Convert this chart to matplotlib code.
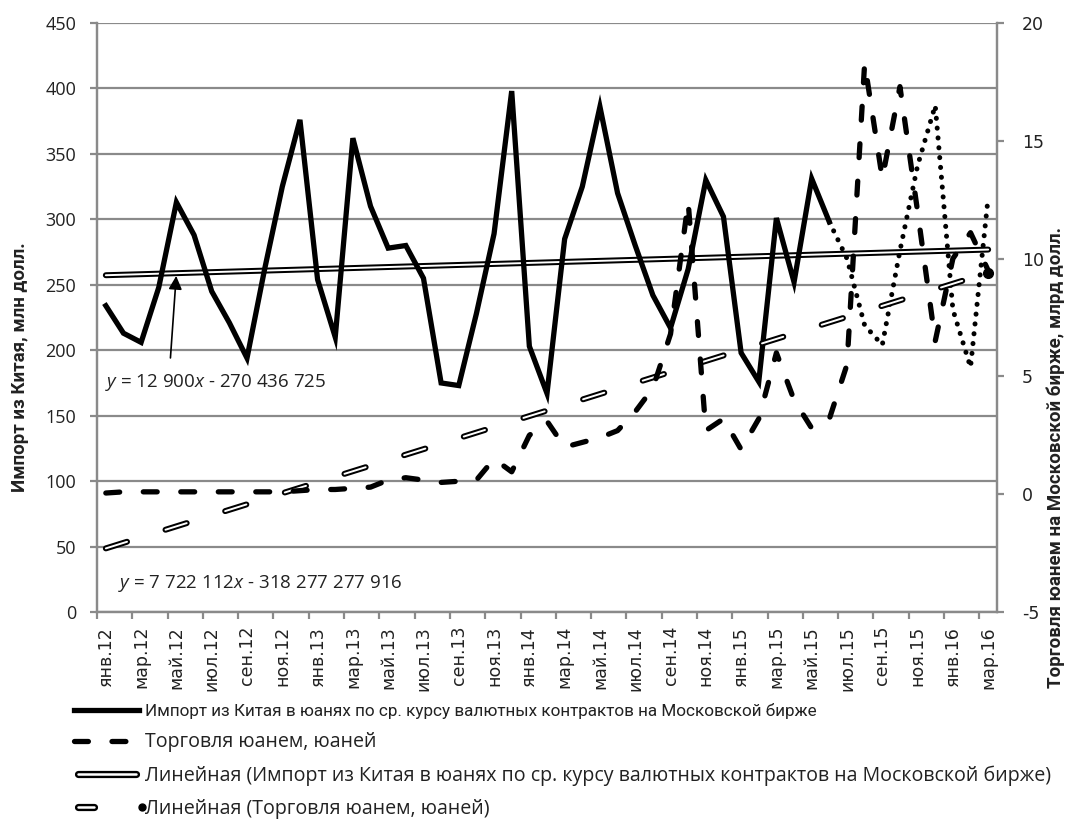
import matplotlib
matplotlib.use('Agg')
import matplotlib.pyplot as plt
from matplotlib.lines import Line2D

plt.rcParams['lines.scale_dashes'] = False
plt.rcParams['axes.unicode_minus'] = False
plt.rcParams['mathtext.fontset'] = 'custom'
plt.rcParams['mathtext.rm'] = 'Open Sans'
plt.rcParams['mathtext.it'] = 'Open Sans:italic'

# Месяцы янв.12 - мар.16 (51 точка), подписи через один месяц
tick_labels = ['янв.12', 'мар.12', 'май.12', 'июл.12', 'сен.12', 'ноя.12',
               'янв.13', 'мар.13', 'май.13', 'июл.13', 'сен.13', 'ноя.13',
               'янв.14', 'мар.14', 'май.14', 'июл.14', 'сен.14', 'ноя.14',
               'янв.15', 'мар.15', 'май.15', 'июл.15', 'сен.15', 'ноя.15',
               'янв.16', 'мар.16']

# Импорт из Китая, млн долл. (левая ось)
import_vals = [234, 213, 206, 248, 313, 288, 245, 221, 194, 262,
               325, 376, 254, 210, 362, 310, 278, 280, 255, 175,
               173, 228, 289, 398, 203, 167, 285, 325, 386, 320,
               280, 242, 217, 262, 330, 302, 198, 176, 301, 252,
               331, 298, 270, 219, 204, 276, 341, 387, 231, 187,
               317]

# Торговля юанем, млрд (правая ось)
trade_vals = [0.05, 0.1, 0.1, 0.1, 0.1, 0.1, 0.1, 0.1, 0.1, 0.1,
              0.1, 0.15, 0.2, 0.2, 0.25, 0.3, 0.6, 0.7, 0.6, 0.5,
              0.55, 0.6, 1.5, 0.95, 2.5, 3.1, 2.0, 2.2, 2.4, 2.7,
              3.5, 4.5, 6.8, 12.4, 2.7, 3.2, 1.9, 3.2, 6.0, 4.0,
              2.8, 3.2, 5.5, 18.3, 13.4, 17.3, 12.0, 6.5, 10.0, 11.1,
              9.5]

# Линейные тренды (значения в начале и в конце периода)
import_trend = [257.3, 276.9]
trade_trend = [-2.3, 9.4]

eq_import = '$y$ = 12 900$x$ - 270 436 725'
eq_trade = '$y$ = 7 722 112$x$ - 318 277 277 916'

n = len(import_vals)
x = list(range(n))
solid_end = 41  # дальше ряд импорта нарисован точками

grid_col = '#8a8a8a'
txt_col = '#222222'
trade_dash = (0, (10, 17))
trend_dash = (0, (16, 29))


class DoubleLineHandler:
    # двойная линия в легенде (чёрная толстая + белая тонкая)
    def __init__(self, dashed):
        self.dashed = dashed

    def legend_artist(self, legend, orig_handle, fontsize, handlebox):
        x0, y0 = handlebox.xdescent, handlebox.ydescent
        w, h = handlebox.width, handlebox.height
        yc = y0 + h / 2
        tr = handlebox.get_transform()
        if self.dashed:
            xs = [x0 + 3, x0 + w * 0.3]
        else:
            xs = [x0 + 3, x0 + w - 2]
        arts = [Line2D(xs, [yc, yc], color='black', lw=5.2, solid_capstyle='round', transform=tr),
                Line2D(xs, [yc, yc], color='white', lw=1.8, solid_capstyle='round', transform=tr)]
        if self.dashed:
            arts.append(Line2D([x0 + w + 2], [yc], marker='o', ms=5, color='black',
                               linestyle='none', transform=tr))
        for a in arts:
            handlebox.add_artist(a)
        return arts[0]


fig = plt.figure(figsize=(10.68, 8.24), dpi=100)
ax = fig.add_axes([97/1068, 1-612/824, 900/1068, 589/824])
ax2 = ax.twinx()

ax.set_xlim(-0.5, n - 0.5)
ax.set_ylim(0, 450)
ax.set_yticks(range(0, 451, 50))
ax.grid(axis='y', color=grid_col, linewidth=1.6)
ax.set_axisbelow(True)
ax2.set_ylim(-5, 20)
ax2.set_yticks(range(-5, 21, 5))

for a in (ax, ax2):
    for s in a.spines.values():
        s.set_color(grid_col)
        s.set_linewidth(1.6)
    a.spines['top'].set_visible(False)

ax.set_xticks([i - 0.5 for i in range(0, n, 2)])
ax.set_xticklabels([])
ax.set_xticks(range(0, n, 2), minor=True)
ax.set_xticklabels(tick_labels, minor=True, rotation=90, fontsize=12.5,
                   family='DejaVu Sans', color=txt_col)
ax.tick_params(axis='x', which='major', length=5, width=1.6, color=grid_col)
ax.tick_params(axis='x', which='minor', length=0, pad=10)
ax.tick_params(axis='y', length=5, width=1.6, color=grid_col, pad=10, labelsize=13)
for t in ax.get_yticklabels():
    t.set_family('Open Sans')
    t.set_color(txt_col)
ax2.tick_params(axis='y', length=5, width=1.6, color=grid_col, pad=13, labelsize=12.5)
for t in ax2.get_yticklabels():
    t.set_family('DejaVu Sans')
    t.set_color(txt_col)

# тренд импорта (двойная линия)
ax.plot([x[0], x[-1]], import_trend, color='black', lw=4.3, solid_capstyle='round', zorder=3)
ax.plot([x[0], x[-1]], import_trend, color='white', lw=1.4, solid_capstyle='round', zorder=3)

# импорт
ax.plot(x[:solid_end + 1], import_vals[:solid_end + 1], color='black', lw=3.8,
        solid_joinstyle='miter', zorder=4)
ax.plot(x[solid_end:], import_vals[solid_end:], color='black', lw=3.6,
        linestyle=(0, (0.1, 7)), dash_capstyle='round', zorder=4)

# тренд торговли (двойной пунктир)
ax2.plot([x[0], x[-1]], trade_trend, color='black', lw=4.3,
         linestyle=trend_dash, dash_capstyle='round')
ax2.plot([x[0], x[-1]], trade_trend, color='white', lw=1.4,
         linestyle=trend_dash, dash_capstyle='round')
ax2.plot([x[-1]], [trade_trend[-1]], 'o', color='black', ms=7)

# торговля юанем
ax2.plot(x, trade_vals, color='black', lw=3.8, linestyle=trade_dash,
         dash_capstyle='round')

# уравнения трендов
ax.annotate('', xy=(4, import_trend[0] + (import_trend[1] - import_trend[0]) * 4 / (n - 1)),
            xytext=(3.65, 192),
            arrowprops=dict(arrowstyle='-|>', color='black', lw=1.2, mutation_scale=20))
ax.text(-0.05, 175, eq_import, fontsize=13.5, family='Open Sans', va='center', color=txt_col)
ax.text(0.7, 22, eq_trade, fontsize=13.5, family='Open Sans', va='center', color=txt_col)

fig.text(20/1068, 1-367/824, 'Импорт из Китая, млн долл.', rotation=90, ha='center',
         va='center', fontsize=13.5, fontweight='bold', family='Roboto', color=txt_col)
fig.text(1056/1068, 1-457/824, 'Торговля юанем на Московской бирже, млрд долл.',
         rotation=90, ha='center', va='center', fontsize=13.5, fontweight='bold',
         family='Roboto', color=txt_col)

# легенда
h1 = Line2D([], [], color='black', lw=3.8)
h2 = Line2D([], [], color='black', lw=3.8, linestyle=trade_dash, dash_capstyle='round')
h3 = Line2D([], [])
h4 = Line2D([], [])
labels = ['Импорт из Китая в юанях по ср. курсу валютных контрактов на Московской бирже',
          'Торговля юанем, юаней',
          'Линейная (Импорт из Китая в юанях по ср. курсу валютных контрактов на Московской бирже)',
          'Линейная (Торговля юанем, юаней)']
leg = fig.legend([h1, h2, h3, h4], labels, loc='upper left',
                 bbox_to_anchor=(58/1068, 1-687/824), frameon=False,
                 handlelength=3.6, handletextpad=0.3, labelspacing=0.72,
                 handler_map={h3: DoubleLineHandler(False), h4: DoubleLineHandler(True)},
                 prop={'family': 'Roboto', 'size': 13}, labelcolor=txt_col)
texts = leg.get_texts()
texts[0].set_fontsize(12.3)
for t in texts[1:]:
    t.set_family('Open Sans')
    t.set_fontsize(14.1)

fig.savefig('out.png', dpi=100)
